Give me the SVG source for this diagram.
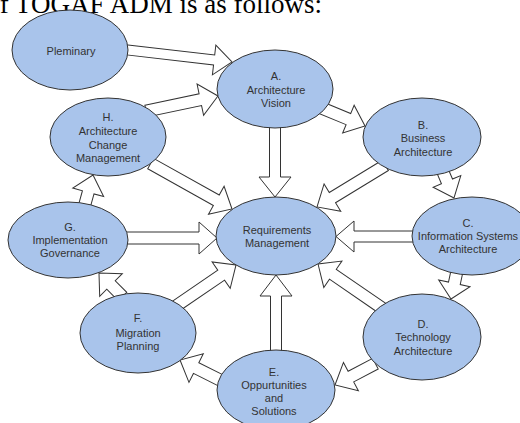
<svg xmlns="http://www.w3.org/2000/svg" width="520" height="423" viewBox="0 0 520 423">
<style>
.n{fill:#a9c4eb;stroke:#333;stroke-width:1}
.t{font-family:"Liberation Sans",Arial,sans-serif;font-size:11px;fill:#333;text-anchor:middle}
.a{fill:#fff;stroke:#333;stroke-width:1;stroke-linejoin:miter}
.h{font-family:"Liberation Serif","Times New Roman",serif;font-size:27px;fill:#000;text-anchor:end}
</style>
<rect width="520" height="423" fill="#fff"/>
<text class="h" x="322" y="12.5">of TOGAF ADM is as follows:</text>
<g id="connectors">
<path class="a" transform="translate(128,50) rotate(6.58)" d="M-5,-5 L86.7,-5 L86.7,-15 L104.7,0 L86.7,15 L86.7,5 L-5,5 Z"/>
<path class="a" transform="translate(151,110) rotate(-11.8)" d="M-5,-6 L50.4,-6 L50.4,-16 L68.4,0 L50.4,16 L50.4,6 L-5,6 Z"/>
<path class="a" transform="translate(324,109) rotate(22.52)" d="M-5,-6 L26.4,-6 L26.4,-15 L44.4,0 L26.4,15 L26.4,6 L-5,6 Z"/>
<path class="a" transform="translate(275,128) rotate(90)" d="M-5,-5.5 L49,-5.5 L49,-16 L69,0 L49,16 L49,5.5 L-5,5.5 Z"/>
<path class="a" transform="translate(381,168) rotate(148.65)" d="M-5,-6 L56.9,-6 L56.9,-16 L74.9,0 L56.9,16 L56.9,6 L-5,6 Z"/>
<path class="a" transform="translate(443,172) rotate(67.07)" d="M-5,-6 L10.2,-6 L10.2,-15 L28.2,0 L10.2,15 L10.2,6 L-5,6 Z"/>
<path class="a" transform="translate(155,166) rotate(29.18)" d="M-5,-6 L70.2,-6 L70.2,-16 L88.2,0 L70.2,16 L70.2,6 L-5,6 Z"/>
<path class="a" transform="translate(128,238) rotate(0)" d="M-5,-6 L71,-6 L71,-16 L89,0 L71,16 L71,6 L-5,6 Z"/>
<path class="a" transform="translate(412,236.5) rotate(180)" d="M-5,-5.5 L58,-5.5 L58,-15.5 L76,0 L58,15.5 L58,5.5 L-5,5.5 Z"/>
<path class="a" transform="translate(379,306) rotate(-145.46)" d="M-5,-6 L56,-6 L56,-16 L74,0 L56,16 L56,6 L-5,6 Z"/>
<path class="a" transform="translate(457,271) rotate(102.1)" d="M-5,-6 L12.6,-6 L12.6,-16 L28.6,0 L12.6,16 L12.6,6 L-5,6 Z"/>
<path class="a" transform="translate(371,366) rotate(152.18)" d="M-5,-6 L22.7,-6 L22.7,-16 L40.7,0 L22.7,16 L22.7,6 L-5,6 Z"/>
<path class="a" transform="translate(276,351) rotate(-90)" d="M-5,-5.5 L55,-5.5 L55,-16 L76,0 L55,16 L55,5.5 L-5,5.5 Z"/>
<path class="a" transform="translate(220,380) rotate(-153.43)" d="M-5,-6 L26.7,-6 L26.7,-16 L44.7,0 L26.7,16 L26.7,6 L-5,6 Z"/>
<path class="a" transform="translate(179,304) rotate(-34.38)" d="M-5,-6 L51.1,-6 L51.1,-16 L69.1,0 L51.1,16 L51.1,6 L-5,6 Z"/>
<path class="a" transform="translate(119,293) rotate(-135)" d="M-5,-6 L11.3,-6 L11.3,-16 L28.3,0 L11.3,16 L11.3,6 L-5,6 Z"/>
<path class="a" transform="translate(85,204) rotate(-74.58)" d="M-5,-6 L12.1,-6 L12.1,-16 L30.1,0 L12.1,16 L12.1,6 L-5,6 Z"/>
</g>
<g id="pleminary"><ellipse class="n" cx="70" cy="50" rx="58" ry="40"/><text class="t" x="71" y="55">Pleminary</text></g>
<g id="a"><ellipse class="n" cx="275" cy="89" rx="58" ry="39"/><text class="t" x="276" y="80">A.</text><text class="t" x="276" y="94">Architecture</text><text class="t" x="276" y="107">Vision</text></g>
<g id="b"><ellipse class="n" cx="422" cy="137" rx="59" ry="39"/><text class="t" x="423" y="129">B.</text><text class="t" x="423" y="142">Business</text><text class="t" x="423" y="156">Architecture</text></g>
<g id="h"><ellipse class="n" cx="108" cy="137" rx="58" ry="39"/><text class="t" x="108" y="121">H.</text><text class="t" x="108" y="135">Architecture</text><text class="t" x="108" y="149">Change</text><text class="t" x="108" y="162">Management</text></g>
<g id="req"><ellipse class="n" cx="276" cy="236" rx="60" ry="39"/><text class="t" x="277" y="234">Requirements</text><text class="t" x="277" y="247">Management</text></g>
<g id="c"><ellipse class="n" cx="472" cy="236" rx="60" ry="39"/><text class="t" x="468" y="227">C.</text><text class="t" x="468" y="240">Information Systems</text><text class="t" x="468" y="253">Architecture</text></g>
<g id="g"><ellipse class="n" cx="68" cy="240" rx="60" ry="38"/><text class="t" x="70" y="231">G.</text><text class="t" x="70" y="244">Implementation</text><text class="t" x="70" y="257">Governance</text></g>
<g id="d"><ellipse class="n" cx="422" cy="337" rx="59" ry="43"/><text class="t" x="423" y="328">D.</text><text class="t" x="423" y="341">Technology</text><text class="t" x="423" y="355">Architecture</text></g>
<g id="f"><ellipse class="n" cx="138" cy="333" rx="58" ry="40"/><text class="t" x="138" y="322">F.</text><text class="t" x="138" y="337">Migration</text><text class="t" x="138" y="350">Planning</text></g>
<g id="e"><ellipse class="n" cx="276" cy="390" rx="59" ry="40"/><text class="t" x="274" y="376">E.</text><text class="t" x="274" y="389">Oppurtunities</text><text class="t" x="274" y="402">and</text><text class="t" x="274" y="415">Solutions</text></g>
</svg>
